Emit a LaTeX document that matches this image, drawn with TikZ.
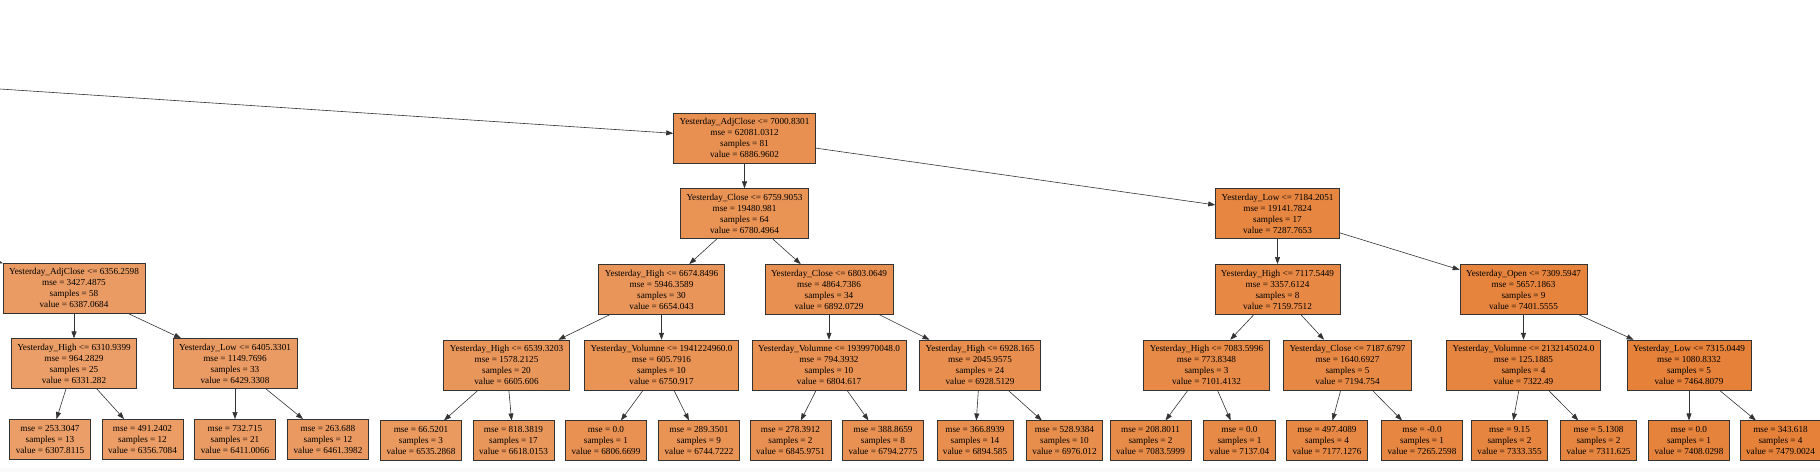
\documentclass[tikz,border=0pt]{standalone}
\usepackage{fontspec}
\setmainfont{Liberation Serif}
\usetikzlibrary{arrows.meta, positioning}

\definecolor{treeorange}{RGB}{229,129,57}

\begin{document}
\begin{tikzpicture}[
    x=1pt, y={(0pt,-1pt)},
    node distance=25pt and 25pt,
    splitbox/.style={rectangle, draw=black!80, line width=0.7pt, fill=treeorange!#1!white, minimum height=50pt, inner xsep=6pt, inner ysep=2pt, align=center, font=\fontsize{9.2pt}{11pt}\selectfont},
    leafbox/.style={splitbox=#1, minimum height=40pt},
    link/.style={draw=black!80, line width=0.6pt, -{Triangle[length=7pt, width=5pt]}}
]
\useasboundingbox (0,0) rectangle (1820,472);
\fill[black!2] (0,468) rectangle (1820,472);

% Root of the shown part
\node[splitbox=88] (root) at (744.5,138) {Yesterday\_AdjClose <= 7000.8301\\mse = 62081.0312\\samples = 81\\value = 6886.9602};
\coordinate (fromleft) at (0,89);
\coordinate (fromleftb) at (-100,227.6);

% Level 1
\node[splitbox=86, below=of root] (s1) {Yesterday\_Close <= 6759.9053\\mse = 19480.981\\samples = 64\\value = 6780.4964};
\node[splitbox=96, below=of root, xshift=533pt] (s2) {Yesterday\_Low <= 7184.2051\\mse = 19141.7824\\samples = 17\\value = 7287.7653};

% Level 2
\node[splitbox=79] (s3) at (74,288) {Yesterday\_AdjClose <= 6356.2598\\mse = 3427.4875\\samples = 58\\value = 6387.0684};
\node[splitbox=84, below=of s1, xshift=-83pt] (s4) {Yesterday\_High <= 6674.8496\\mse = 5946.3589\\samples = 30\\value = 6654.043};
\node[splitbox=88, below=of s1, xshift=84.5pt] (s5) {Yesterday\_Close <= 6803.0649\\mse = 4864.7386\\samples = 34\\value = 6892.0729};
\node[splitbox=94, below=of s2] (s6) {Yesterday\_High <= 7117.5449\\mse = 3357.6124\\samples = 8\\value = 7159.7512};
\node[splitbox=98, below=of s2, xshift=246pt] (s7) {Yesterday\_Open <= 7309.5947\\mse = 5657.1863\\samples = 9\\value = 7401.5555};

% Level 3
\node[splitbox=77, below=of s3] (s8) {Yesterday\_High <= 6310.9399\\mse = 964.2829\\samples = 25\\value = 6331.282};
\node[splitbox=79, below=of s3, xshift=161pt] (s9) {Yesterday\_Low <= 6405.3301\\mse = 1149.7696\\samples = 33\\value = 6429.3308};
\node[splitbox=83, below=of s4, xshift=-155pt] (s10) {Yesterday\_High <= 6539.3203\\mse = 1578.2125\\samples = 20\\value = 6605.606};
\node[splitbox=86, below=of s4] (s11) {Yesterday\_Volumne <= 1941224960.0\\mse = 605.7916\\samples = 10\\value = 6750.917};
\node[splitbox=87, below=of s5] (s12) {Yesterday\_Volumne <= 1939970048.0\\mse = 794.3932\\samples = 10\\value = 6804.617};
\node[splitbox=89, below=of s5, xshift=151pt] (s13) {Yesterday\_High <= 6928.165\\mse = 2045.9575\\samples = 24\\value = 6928.5129};
\node[splitbox=93, below=of s6, xshift=-71pt] (s14) {Yesterday\_High <= 7083.5996\\mse = 773.8348\\samples = 3\\value = 7101.4132};
\node[splitbox=94, below=of s6, xshift=70pt] (s15) {Yesterday\_Close <= 7187.6797\\mse = 1640.6927\\samples = 5\\value = 7194.754};
\node[splitbox=97, below=of s7] (s16) {Yesterday\_Volumne <= 2132145024.0\\mse = 125.1885\\samples = 4\\value = 7322.49};
\node[splitbox=100, below=of s7, xshift=165.5pt] (s17) {Yesterday\_Low <= 7315.0449\\mse = 1080.8332\\samples = 5\\value = 7464.8079};

% Leaves
\node[leafbox=77, below=30pt of s8, xshift=-24pt] (v1) {mse = 253.3047\\samples = 13\\value = 6307.8115};
\node[leafbox=78, below=30pt of s8, xshift=68.5pt] (v2) {mse = 491.2402\\samples = 12\\value = 6356.7084};
\node[leafbox=79, below=30pt of s9] (v3) {mse = 732.715\\samples = 21\\value = 6411.0066};
\node[leafbox=80, below=30pt of s9, xshift=93pt] (v4) {mse = 263.688\\samples = 12\\value = 6461.3982};
\node[leafbox=81, below=30pt of s10, xshift=-85.5pt] (v5) {mse = 66.5201\\samples = 3\\value = 6535.2868};
\node[leafbox=83, below=30pt of s10, xshift=7pt] (v6) {mse = 818.3819\\samples = 17\\value = 6618.0153};
\node[leafbox=87, below=30pt of s11, xshift=-55.5pt] (v7) {mse = 0.0\\samples = 1\\value = 6806.6699};
\node[leafbox=86, below=30pt of s11, xshift=37.5pt] (v8) {mse = 289.3501\\samples = 9\\value = 6744.7222};
\node[leafbox=88, below=30pt of s12, xshift=-38.5pt] (v9) {mse = 278.3912\\samples = 2\\value = 6845.9751};
\node[leafbox=87, below=30pt of s12, xshift=54pt] (v10) {mse = 388.8659\\samples = 8\\value = 6794.2775};
\node[leafbox=89, below=30pt of s13, xshift=-5pt] (v11) {mse = 366.8939\\samples = 14\\value = 6894.585};
\node[leafbox=90, below=30pt of s13, xshift=84.5pt] (v12) {mse = 528.9384\\samples = 10\\value = 6976.012};
\node[leafbox=92, below=30pt of s14, xshift=-56pt] (v13) {mse = 208.8011\\samples = 2\\value = 7083.5999};
\node[leafbox=93, below=30pt of s14, xshift=33pt] (v14) {mse = 0.0\\samples = 1\\value = 7137.04};
\node[leafbox=94, below=30pt of s15, xshift=-20.5pt] (v15) {mse = 497.4089\\samples = 4\\value = 7177.1276};
\node[leafbox=96, below=30pt of s15, xshift=74.5pt] (v16) {mse = -0.0\\samples = 1\\value = 7265.2598};
\node[leafbox=97, below=30pt of s16, xshift=-14pt] (v17) {mse = 9.15\\samples = 2\\value = 7333.355};
\node[leafbox=97, below=30pt of s16, xshift=75pt] (v18) {mse = 5.1308\\samples = 2\\value = 7311.625};
\node[leafbox=99, below=30pt of s17] (v19) {mse = 0.0\\samples = 1\\value = 7408.0298};
\node[leafbox=100, below=30pt of s17, xshift=91.5pt] (v20) {mse = 343.618\\samples = 4\\value = 7479.0024};

% Draw lines
\draw[link] (fromleft) -- (root);
\draw[link] (fromleftb) -- (s3);
\draw[link] (root) -- (s1);
\draw[link] (root) -- (s2);
\draw[link] (s1) -- (s4);
\draw[link] (s1) -- (s5);
\draw[link] (s2) -- (s6);
\draw[link] (s2) -- (s7);
\draw[link] (s3) -- (s8);
\draw[link] (s3) -- (s9);
\draw[link] (s4) -- (s10);
\draw[link] (s4) -- (s11);
\draw[link] (s5) -- (s12);
\draw[link] (s5) -- (s13);
\draw[link] (s6) -- (s14);
\draw[link] (s6) -- (s15);
\draw[link] (s7) -- (s16);
\draw[link] (s7) -- (s17);
\draw[link] (s8) -- (v1);
\draw[link] (s8) -- (v2);
\draw[link] (s9) -- (v3);
\draw[link] (s9) -- (v4);
\draw[link] (s10) -- (v5);
\draw[link] (s10) -- (v6);
\draw[link] (s11) -- (v7);
\draw[link] (s11) -- (v8);
\draw[link] (s12) -- (v9);
\draw[link] (s12) -- (v10);
\draw[link] (s13) -- (v11);
\draw[link] (s13) -- (v12);
\draw[link] (s14) -- (v13);
\draw[link] (s14) -- (v14);
\draw[link] (s15) -- (v15);
\draw[link] (s15) -- (v16);
\draw[link] (s16) -- (v17);
\draw[link] (s16) -- (v18);
\draw[link] (s17) -- (v19);
\draw[link] (s17) -- (v20);
\end{tikzpicture}
\end{document}
